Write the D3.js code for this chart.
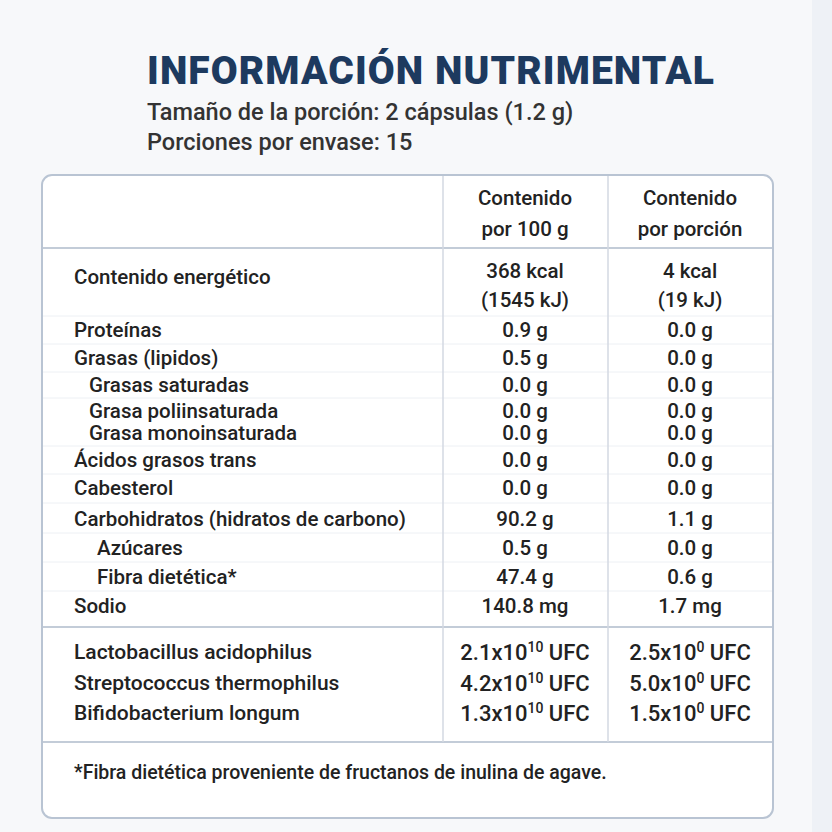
<!DOCTYPE html>
<html><head><meta charset="utf-8">
<script src="https://cdn.jsdelivr.net/npm/d3@7"></script>
<style>body{margin:0;background:#f7f8fa}</style>
</head><body><div id="container"></div>
<script>
// rows: label, indent, y centre, per 100 g, per portion
var labels = ["Proteínas", "Grasas (lipidos)", "Grasas saturadas", "Grasa poliinsaturada", "Grasa monoinsaturada",
  "Ácidos grasos trans", "Cabesterol", "Carbohidratos (hidratos de carbono)", "Azúcares", "Fibra dietética*", "Sodio"];
var indents = [0, 0, 15, 15, 15, 0, 0, 0, 23, 23, 0];
var rowY = [330, 358, 385, 411, 433, 460, 488, 519, 548, 577, 606];
var per100 = ["0.9 g", "0.5 g", "0.0 g", "0.0 g", "0.0 g", "0.0 g", "0.0 g", "90.2 g", "0.5 g", "47.4 g", "140.8 mg"];
var perPortion = ["0.0 g", "0.0 g", "0.0 g", "0.0 g", "0.0 g", "0.0 g", "0.0 g", "1.1 g", "0.0 g", "0.6 g", "1.7 mg"];
var bacteria = ["Lactobacillus acidophilus", "Streptococcus thermophilus", "Bifidobacterium longum"];
var bactY = [652, 683, 713];
var bact100 = ["2.1", "4.2", "1.3"];
var bactPortion = ["2.5", "5.0", "1.5"];
var lines = [248, 316, 344, 372, 398, 446, 474, 503, 533, 562, 591, 627, 742];
var strong = [248, 627, 742];

var svg = d3.select("#container").append("svg").attr("width", 832).attr("height", 832)
  .style("font-family", "Roboto, 'Liberation Sans', sans-serif");
svg.append("rect").attr("width", 832).attr("height", 832).attr("fill", "#f7f8fa");
svg.append("rect").attr("x", 812).attr("y", 0).attr("width", 20).attr("height", 832).attr("fill", "#eef1f6");

svg.append("text").attr("x", 147).attr("y", 84).text("INFORMACIÓN NUTRIMENTAL")
  .attr("font-size", 39).attr("font-weight", 900).attr("fill", "#1d3a5f").attr("textLength", 567);
svg.append("text").attr("x", 147).attr("y", 120).text("Tamaño de la porción: 2 cápsulas (1.2 g)").attr("font-size", 23.5).attr("font-weight", 500).attr("fill", "#333");
svg.append("text").attr("x", 147).attr("y", 150).text("Porciones por envase: 15").attr("font-size", 23.5).attr("font-weight", 500).attr("fill", "#333");

svg.append("rect").attr("x", 42).attr("y", 175).attr("width", 731).attr("height", 643).attr("rx", 10)
  .attr("fill", "#fff").attr("stroke", "#b9c4d3").attr("stroke-width", 2);
svg.selectAll("hl").data(lines).enter().append("line")
  .attr("x1", 43).attr("x2", 772).attr("y1", function(d) { return d; }).attr("y2", function(d) { return d; })
  .attr("stroke", function(d) { return strong.indexOf(d) >= 0 ? "#c3ccd8" : "#edf0f4"; })
  .attr("stroke-width", function(d) { return strong.indexOf(d) >= 0 ? 2 : 1; });
[443, 608].forEach(function(x) {
  svg.append("line").attr("x1", x).attr("x2", x).attr("y1", 176).attr("y2", 742).attr("stroke", "#d3d9e2").attr("stroke-width", 1.5);
});

function txt(x, y, s, anchor) {
  return svg.append("text").attr("x", x).attr("y", y).attr("dy", "0.35em").attr("text-anchor", anchor || "start")
    .attr("font-size", 20.5).attr("font-weight", 500).attr("fill", "#222").text(s);
}
var c1 = 525, c2 = 690;
txt(c1, 198, "Contenido", "middle"); txt(c1, 229, "por 100 g", "middle");
txt(c2, 198, "Contenido", "middle"); txt(c2, 229, "por porción", "middle");
txt(74, 277, "Contenido energético");
txt(c1, 271, "368 kcal", "middle"); txt(c1, 300, "(1545 kJ)", "middle");
txt(c2, 271, "4 kcal", "middle"); txt(c2, 300, "(19 kJ)", "middle");

labels.forEach(function(l, i) {
  txt(74 + indents[i], rowY[i], l);
  txt(c1, rowY[i], per100[i], "middle");
  txt(c2, rowY[i], perPortion[i], "middle");
});

function sci(x, y, mant, exp) {
  var t = txt(x, y, "", "middle").attr("font-size", 22);
  t.append("tspan").text(mant + "x10");
  t.append("tspan").attr("font-size", 14).attr("dy", -8).text(exp);
  t.append("tspan").attr("dy", 8).text(" UFC");
}
bacteria.forEach(function(b, i) {
  txt(74, bactY[i], b).attr("font-size", 21);
  sci(c1, bactY[i], bact100[i], "10");
  sci(c2, bactY[i], bactPortion[i], "0");
});
txt(74, 772, "*Fibra dietética proveniente de fructanos de inulina de agave.").attr("font-size", 19.5);
</script></body></html>
